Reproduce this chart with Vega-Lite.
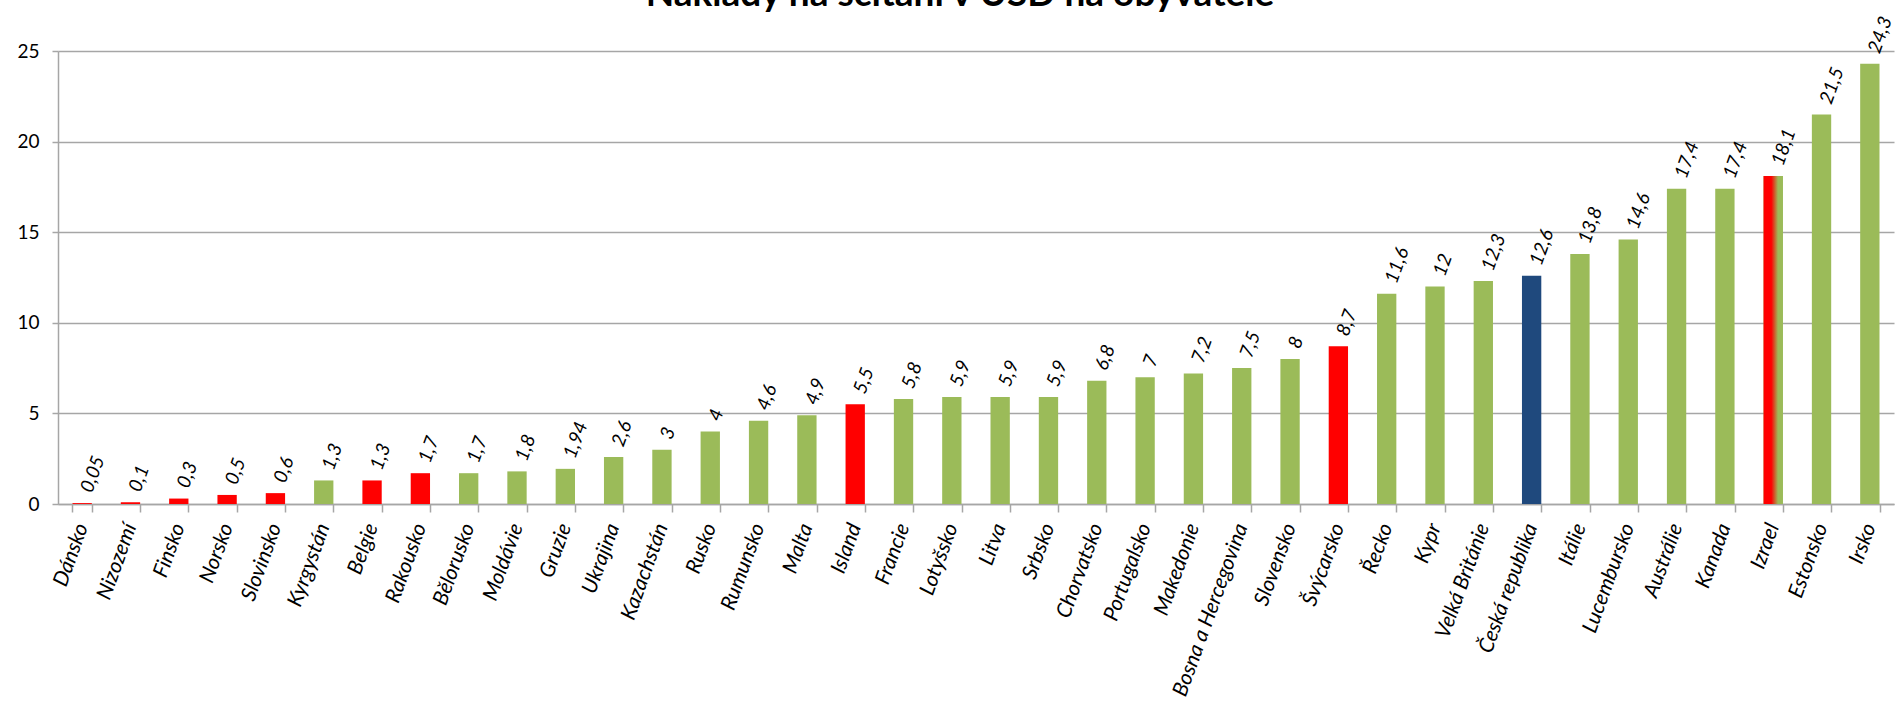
{
  "$schema": "https://vega.github.io/schema/vega-lite/v6.json",
  "width": 1836,
  "height": 453,
  "autosize": {"type": "none"},
  "padding": {"left": 58, "top": 51, "right": 1, "bottom": 202},
  "background": "white",
  "config": {
    "view": {"stroke": null},
    "locale": {"number": {"decimal": ",", "thousands": " ", "grouping": [3], "currency": ["", ""]}}
  },
  "title": {
    "text": "Náklady na sčítání v USD na obyvatele",
    "font": "Lato",
    "fontSize": 37,
    "fontWeight": "bold",
    "color": "#000000",
    "anchor": "middle",
    "frame": "group",
    "baseline": "alphabetic",
    "offset": -29,
    "dx": -16
  },
  "data": {
    "values": [
      {"stat": "Dánsko", "naklady": 0.05, "typ": "registr"},
      {"stat": "Nizozemí", "naklady": 0.1, "typ": "registr"},
      {"stat": "Finsko", "naklady": 0.3, "typ": "registr"},
      {"stat": "Norsko", "naklady": 0.5, "typ": "registr"},
      {"stat": "Slovinsko", "naklady": 0.6, "typ": "registr"},
      {"stat": "Kyrgystán", "naklady": 1.3, "typ": "klasický"},
      {"stat": "Belgie", "naklady": 1.3, "typ": "registr"},
      {"stat": "Rakousko", "naklady": 1.7, "typ": "registr"},
      {"stat": "Bělorusko", "naklady": 1.7, "typ": "klasický"},
      {"stat": "Moldávie", "naklady": 1.8, "typ": "klasický"},
      {"stat": "Gruzie", "naklady": 1.94, "typ": "klasický"},
      {"stat": "Ukrajina", "naklady": 2.6, "typ": "klasický"},
      {"stat": "Kazachstán", "naklady": 3, "typ": "klasický"},
      {"stat": "Rusko", "naklady": 4, "typ": "klasický"},
      {"stat": "Rumunsko", "naklady": 4.6, "typ": "klasický"},
      {"stat": "Malta", "naklady": 4.9, "typ": "klasický"},
      {"stat": "Island", "naklady": 5.5, "typ": "registr"},
      {"stat": "Francie", "naklady": 5.8, "typ": "klasický"},
      {"stat": "Lotyšsko", "naklady": 5.9, "typ": "klasický"},
      {"stat": "Litva", "naklady": 5.9, "typ": "klasický"},
      {"stat": "Srbsko", "naklady": 5.9, "typ": "klasický"},
      {"stat": "Chorvatsko", "naklady": 6.8, "typ": "klasický"},
      {"stat": "Portugalsko", "naklady": 7, "typ": "klasický"},
      {"stat": "Makedonie", "naklady": 7.2, "typ": "klasický"},
      {"stat": "Bosna a Hercegovina", "naklady": 7.5, "typ": "klasický"},
      {"stat": "Slovensko", "naklady": 8, "typ": "klasický"},
      {"stat": "Švýcarsko", "naklady": 8.7, "typ": "registr"},
      {"stat": "Řecko", "naklady": 11.6, "typ": "klasický"},
      {"stat": "Kypr", "naklady": 12, "typ": "klasický"},
      {"stat": "Velká Británie", "naklady": 12.3, "typ": "klasický"},
      {"stat": "Česká republika", "naklady": 12.6, "typ": "ČR"},
      {"stat": "Itálie", "naklady": 13.8, "typ": "klasický"},
      {"stat": "Lucembursko", "naklady": 14.6, "typ": "klasický"},
      {"stat": "Austrálie", "naklady": 17.4, "typ": "klasický"},
      {"stat": "Kanada", "naklady": 17.4, "typ": "klasický"},
      {"stat": "Izrael", "naklady": 18.1, "typ": "kombinovaný"},
      {"stat": "Estonsko", "naklady": 21.5, "typ": "klasický"},
      {"stat": "Irsko", "naklady": 24.3, "typ": "klasický"}
    ]
  },
  "encoding": {
    "x": {
      "field": "stat",
      "type": "nominal",
      "sort": null,
      "title": null,
      "scale": {"paddingInner": 0.6, "paddingOuter": 0.3},
      "axis": {
        "tickBand": "extent",
        "labelAngle": -70,
        "labelAlign": "right",
        "labelBaseline": "middle",
        "labelFont": "Lato",
        "labelFontStyle": "italic",
        "labelFontSize": 21,
        "labelColor": "#000000",
        "labelPadding": 12,
        "labelOverlap": false,
        "labelLimit": 400,
        "domainColor": "#A6A6A6",
        "domainWidth": 1.5,
        "tickColor": "#A6A6A6",
        "tickWidth": 1.5,
        "tickSize": 8,
        "grid": false
      }
    },
    "y": {
      "field": "naklady",
      "type": "quantitative",
      "title": null,
      "scale": {"domain": [0, 25], "nice": false},
      "axis": {
        "values": [0, 5, 10, 15, 20, 25],
        "format": "d",
        "labelFont": "Lato",
        "labelFontSize": 19,
        "labelColor": "#000000",
        "labelPadding": 13,
        "domainColor": "#A6A6A6",
        "domainWidth": 1.5,
        "tickColor": "#A6A6A6",
        "tickWidth": 1.5,
        "tickSize": 6,
        "grid": true,
        "gridColor": "#A6A6A6",
        "gridWidth": 1.5
      }
    }
  },
  "layer": [
    {
      "mark": {"type": "bar"},
      "encoding": {
        "color": {
          "field": "typ",
          "type": "nominal",
          "legend": null,
          "scale": {
            "domain": ["registr", "klasický", "ČR", "kombinovaný"],
            "range": ["#FF0000", "#9BBB59", "#1F497D", "#9BBB59"]
          }
        }
      }
    },
    {
      "transform": [{"filter": "datum.typ === 'kombinovaný'"}],
      "mark": {
        "type": "bar",
        "color": {
          "gradient": "linear",
          "x1": 0, "y1": 0, "x2": 1, "y2": 0,
          "stops": [
            {"offset": 0, "color": "#FF0000"},
            {"offset": 0.4, "color": "#FF0000"},
            {"offset": 0.75, "color": "#9BBB59"},
            {"offset": 1, "color": "#9BBB59"}
          ]
        }
      }
    },
    {
      "mark": {
        "type": "text",
        "angle": -70,
        "align": "left",
        "baseline": "middle",
        "dx": 12,
        "font": "Lato",
        "fontStyle": "italic",
        "fontSize": 19,
        "color": "#000000"
      },
      "encoding": {
        "text": {"field": "naklady", "type": "quantitative", "format": "~g"}
      }
    }
  ]
}
